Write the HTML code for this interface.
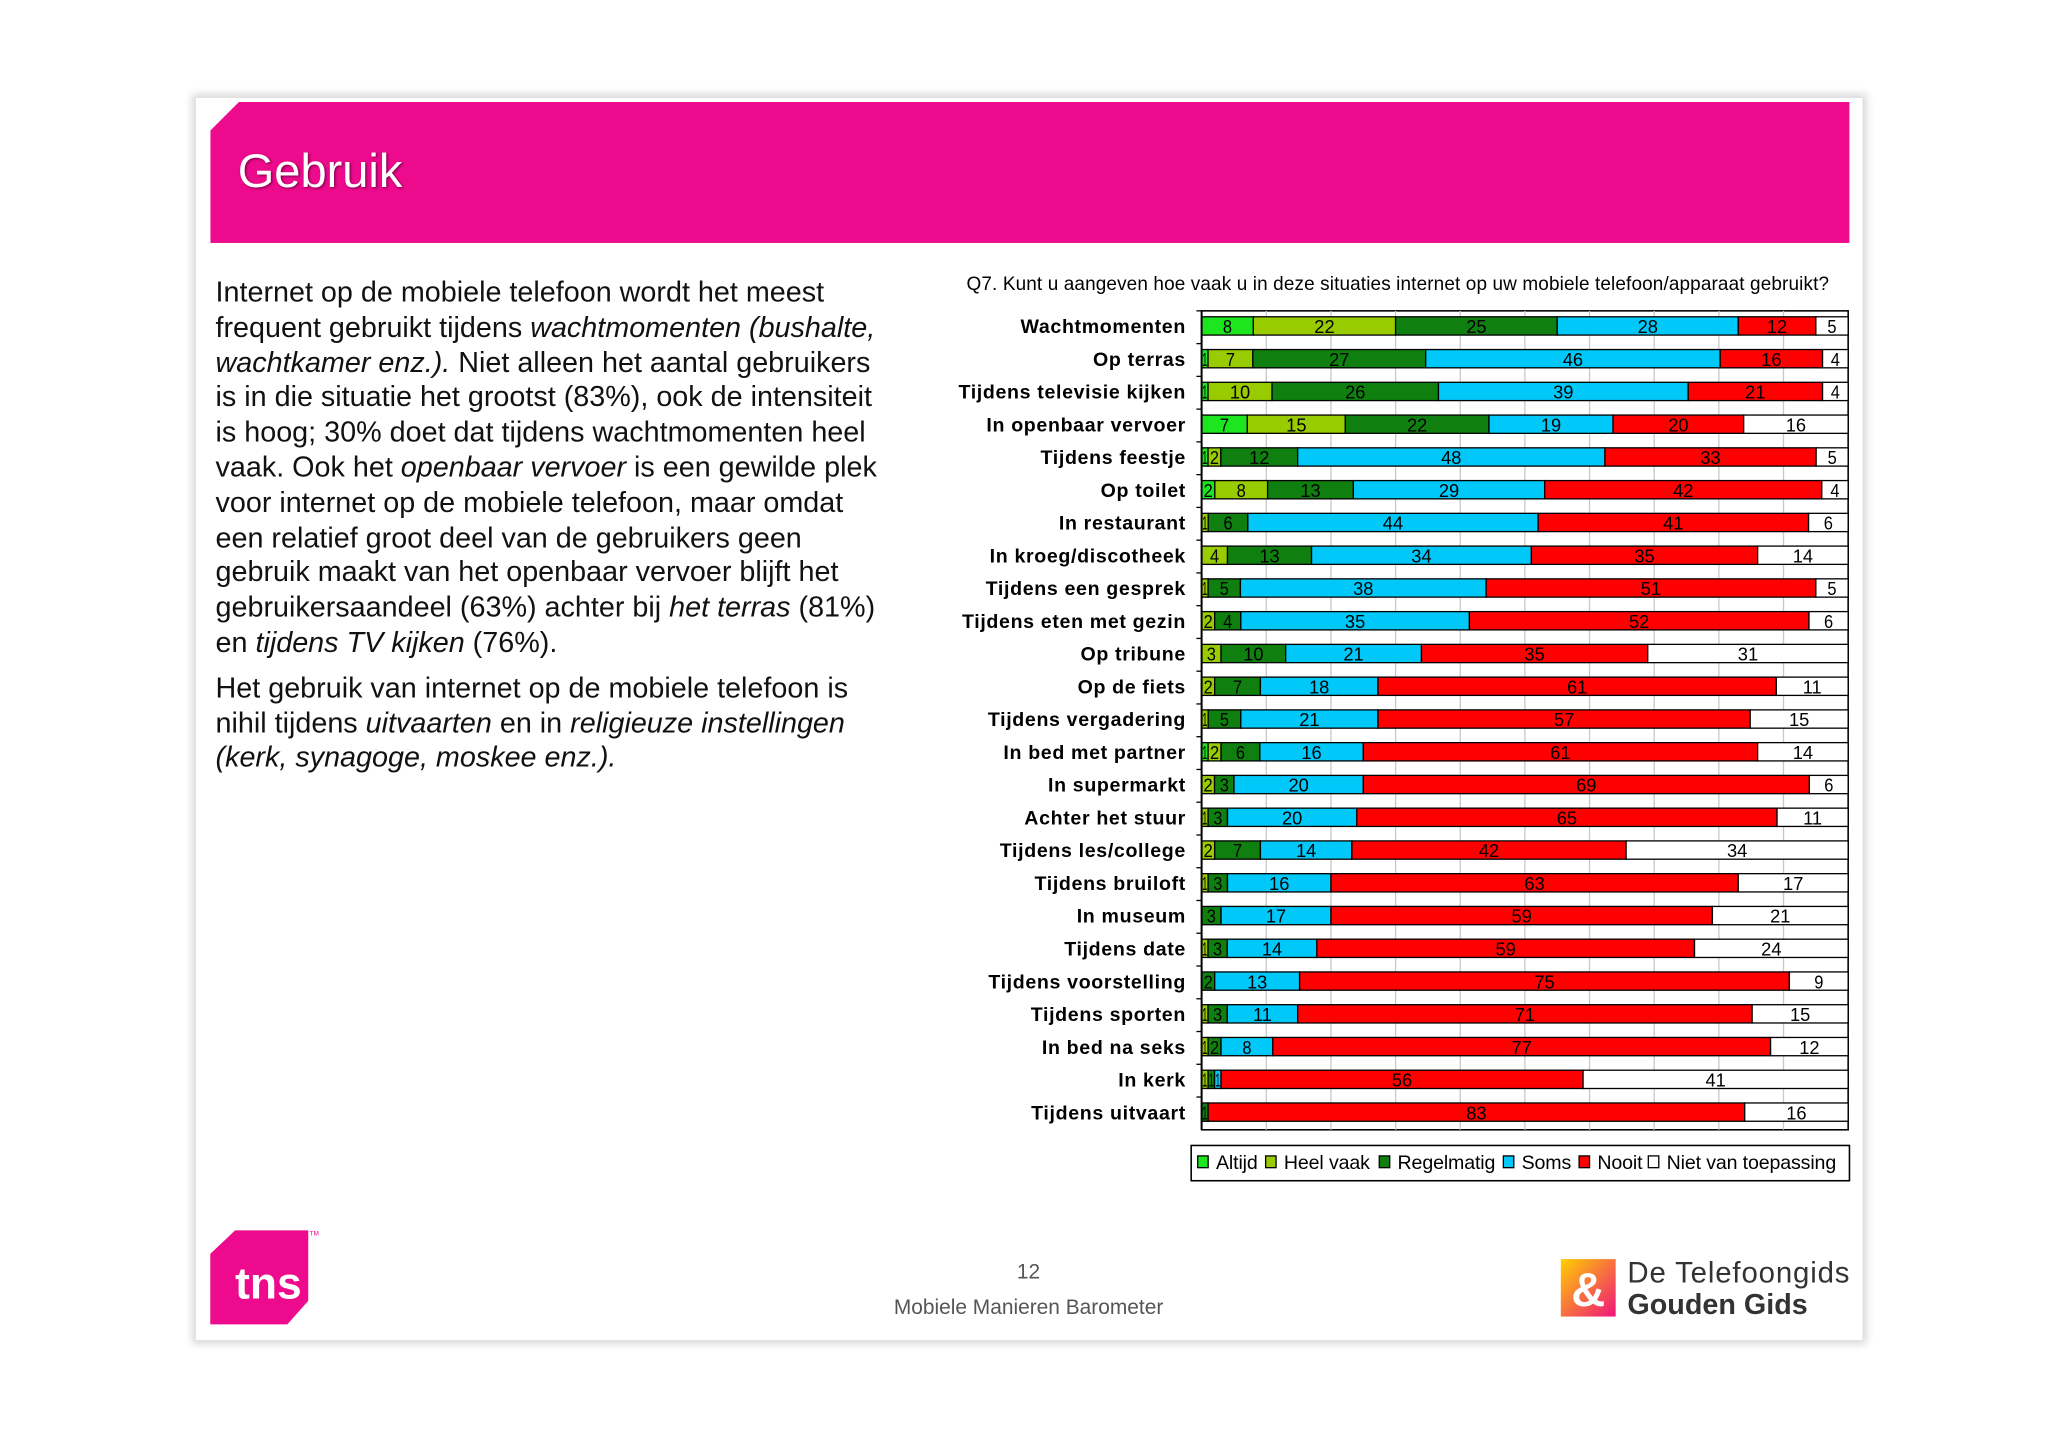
<!DOCTYPE html>
<html><head><meta charset="utf-8"><style>
html,body{margin:0;padding:0;background:#fff;}
#stage{position:absolute;left:0;top:0;width:1568px;height:1108px;transform:scale(1.30612);transform-origin:0 0;font-family:"Liberation Sans",sans-serif;}
.card{position:absolute;left:150px;top:75px;width:1276px;height:951px;background:#fff;box-shadow:0 0 6px 3px #d8d8d8;}
.header{position:absolute;left:161px;top:78px;width:1255px;height:108px;background:#ee0a8c;clip-path:polygon(22px 0,100% 0,100% 100%,0 100%,0 22px);}
.header h1{position:absolute;left:21px;top:32px;margin:0;color:#fff;font-size:36px;font-weight:normal;text-shadow:1px 1px 2px #7a0048;}
.body{position:absolute;left:165px;top:211px;width:520px;font-size:22px;line-height:26.8px;color:#111;}
.body p{margin:0 0 8px 0;}
.ctitle{position:absolute;left:740px;top:210px;font-size:14.5px;letter-spacing:0.1px;color:#000;white-space:nowrap;}
.foot{position:absolute;left:600px;width:375px;text-align:center;color:#555;font-size:16px;}
</style></head><body>
<div id="stage">
<div class="card"></div>
<div class="header"><h1>Gebruik</h1></div>
<div class="body">
<p>Internet op de mobiele telefoon wordt het meest frequent gebruikt tijdens <i>wachtmomenten (bushalte, wachtkamer enz.).</i> Niet alleen het aantal gebruikers is in die situatie het grootst (83%), ook de intensiteit is hoog; 30% doet dat tijdens wachtmomenten heel vaak. Ook het <i>openbaar vervoer</i> is een gewilde plek voor internet op de mobiele telefoon, maar omdat een relatief groot deel van de gebruikers geen gebruik maakt van het openbaar vervoer blijft het gebruikersaandeel (63%) achter bij <i>het terras</i> (81%) en <i>tijdens TV kijken</i> (76%).</p>
<p>Het gebruik van internet op de mobiele telefoon is nihil tijdens <i>uitvaarten</i> en in <i>religieuze instellingen (kerk, synagoge, moskee enz.).</i></p>
</div>
<div class="ctitle">Q7. Kunt u aangeven hoe vaak u in deze situaties internet op uw mobiele telefoon/apparaat gebruikt?</div>
<svg id="chart" width="1568" height="1108" style="position:absolute;left:0;top:0"></svg>
<svg style="position:absolute;left:158px;top:938px" width="90" height="80">
<path d="M22 4 H78 V58 L62 76 H3 V22 Z" fill="#ee0a8c"/>
<text x="22" y="56" font-family="Liberation Sans,sans-serif" font-size="34" font-weight="bold" fill="#fff">tns</text>
<text x="79" y="8" font-size="5" fill="#ee0a8c">TM</text>
</svg>
<div class="foot" style="top:966px">12</div>
<div class="foot" style="top:993px">Mobiele Manieren Barometer</div>
<svg style="position:absolute;left:1193px;top:960px" width="230" height="52">
<defs><linearGradient id="lg" x1="0" y1="0" x2="1" y2="1"><stop offset="0" stop-color="#ffd000"/><stop offset="1" stop-color="#f0147c"/></linearGradient></defs>
<rect x="2" y="4" width="42" height="44" fill="url(#lg)"/>
<text x="10" y="40" font-size="36" font-weight="bold" fill="#fff" font-family="Liberation Sans,sans-serif">&amp;</text>
<text x="53" y="22" font-size="22.5" fill="#333" font-family="Liberation Sans,sans-serif" textLength="170">De Telefoongids</text>
<text x="53" y="46" font-size="22" font-weight="bold" fill="#333" font-family="Liberation Sans,sans-serif">Gouden Gids</text>
</svg>
</div>
<script>
const categories=["Wachtmomenten","Op terras","Tijdens televisie kijken","In openbaar vervoer","Tijdens feestje","Op toilet","In restaurant","In kroeg/discotheek","Tijdens een gesprek","Tijdens eten met gezin","Op tribune","Op de fiets","Tijdens vergadering","In bed met partner","In supermarkt","Achter het stuur","Tijdens les/college","Tijdens bruiloft","In museum","Tijdens date","Tijdens voorstelling","Tijdens sporten","In bed na seks","In kerk","Tijdens uitvaart"];
const altijd=[8,1,1,7,1,2,0,0,0,0,0,0,0,1,0,0,0,0,0,0,0,0,0,0,0];
const heelVaak=[22,7,10,15,2,8,1,4,1,2,3,2,1,2,2,1,2,1,0,1,0,1,1,1,0];
const regelmatig=[25,27,26,22,12,13,6,13,5,4,10,7,5,6,3,3,7,3,3,3,2,3,2,1,1];
const soms=[28,46,39,19,48,29,44,34,38,35,21,18,21,16,20,20,14,16,17,14,13,11,8,1,0];
const nooit=[12,16,21,20,33,42,41,35,51,52,35,61,57,61,69,65,42,63,59,59,75,71,77,56,83];
const nvt=[5,4,4,16,5,4,6,14,5,6,31,11,15,14,6,11,34,17,21,24,9,15,12,41,16];
const seriesNames=["Altijd","Heel vaak","Regelmatig","Soms","Nooit","Niet van toepassing"];
const series=[altijd,heelVaak,regelmatig,soms,nooit,nvt];
const colors=["#1ee61e","#99cc00","#0f800f","#00c8f8","#ff0000","#ffffff"];
const NS="http://www.w3.org/2000/svg";
const svg=document.getElementById('chart');
const L=920,R=1415,T=238,B=865;
const pitch=(B-T)/categories.length;
const xs=v=>L+v/100*(R-L);
const yc=i=>T+pitch*(i+0.5)-1;
function mk(tag,at){const e=document.createElementNS(NS,tag);for(const k in at)e.setAttribute(k,at[k]);svg.appendChild(e);return e;}
const bg=mk('rect',{x:L,y:T,width:R-L,height:B-T,fill:'#fff',stroke:'#000','stroke-width':1.2});


for(let g=1;g<10;g++){const l=mk('line',{x1:xs(g*10),x2:xs(g*10),y1:T,y2:B,stroke:'#c8c8c8','stroke-width':1});

}
categories.forEach((c,i)=>{
  const tot=series.reduce((s,a)=>s+a[i],0);
  let acc=0;const y=yc(i),h=14;
  series.forEach((arr,k)=>{
    const v=arr[i];if(v<=0)return;
    const x0=xs(acc/tot*100),x1=xs((acc+v)/tot*100);acc+=v;
    const r=mk('rect',{x:x0,y:y-h/2,width:x1-x0,height:h,fill:colors[k],stroke:'#000','stroke-width':1});
    
    
    const t=mk('text',{x:(x0+x1)/2,y:y+5.5,'text-anchor':'middle','font-size':14,'font-family':'"Liberation Sans Narrow","Liberation Sans",sans-serif',fill:'#000'});
    if(v<10)t.setAttribute('textLength',Math.min(7,x1-x0-1)),t.setAttribute('lengthAdjust','spacingAndGlyphs');
    t.textContent=v;
    
    
  });
  const lb=mk('text',{x:908,y:y+5.5,'text-anchor':'end','font-size':15,'font-weight':'bold','font-family':'"Liberation Sans",sans-serif',fill:'#000','letter-spacing':'0.5'});
  lb.textContent=c;
  
  
  mk('line',{x1:L-4,x2:L,y1:T+pitch*i,y2:T+pitch*i,stroke:'#000'});
});
const ax=mk('line',{x1:L,x2:L,y1:T,y2:B,stroke:'#000','stroke-width':1.5});


const lg=mk('rect',{x:912,y:877,width:504,height:27,fill:'#fff',stroke:'#000','stroke-width':1.2});


const lx=[917,969,1056,1151,1209,1262];
seriesNames.forEach((n,k)=>{
  const s=mk('rect',{x:lx[k],y:885,width:8,height:9,fill:colors[k],stroke:'#000'});
  
  
  const t=mk('text',{x:lx[k]+14,y:895,'font-size':15,'font-family':'"Liberation Sans",sans-serif',fill:'#000','letter-spacing':'-0.1'});
  t.textContent=n;
  
  
});
</script>
</body></html>
